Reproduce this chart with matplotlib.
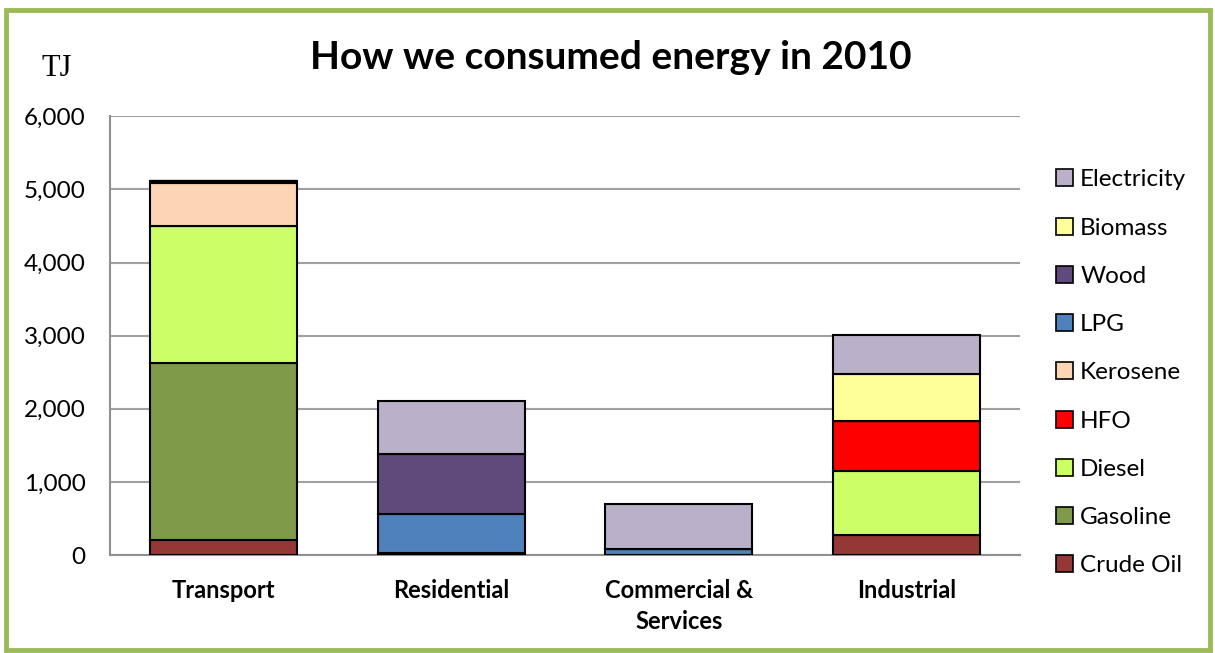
import numpy as np
import matplotlib.pyplot as plt
from matplotlib.patches import Patch, Rectangle

# Energy consumption by sector (TJ), 2010
sectors = ["Transport", "Residential", "Commercial &\nServices", "Industrial"]
fuels = ["Crude Oil", "Gasoline", "Diesel", "HFO", "Kerosene",
         "LPG", "Wood", "Biomass", "Electricity"]

crude_oil   = [205,    0,   0, 270]
gasoline    = [2415,   0,   0,   0]
diesel      = [1880,   0,   0, 885]
hfo         = [0,      0,   0, 683]
kerosene    = [585,   30,   0,   0]
lpg         = [30,   526,  80,   0]
wood        = [0,    828,   0,   0]
biomass     = [0,      0,   0, 632]
electricity = [0,    720, 620, 532]

series = [crude_oil, gasoline, diesel, hfo, kerosene, lpg, wood, biomass, electricity]
colors = ["#953735", "#7F9A48", "#CCFF66", "#FF0000", "#FCD5B5",
          "#4F81BD", "#604A7B", "#FFFF99", "#BAB0C9"]

fig = plt.figure(figsize=(12.15, 6.53), dpi=100)
ax = fig.add_axes([0.0905, 0.150, 0.749, 0.672])

x = np.arange(len(sectors))
bottom = np.zeros(len(sectors))
for vals, col in zip(series, colors):
    vals = np.array(vals, dtype=float)
    ax.bar(x, vals, width=0.646, bottom=bottom, color=col,
           edgecolor="black", linewidth=1.5, zorder=3)
    bottom += vals

ax.set_xlim(-0.5, 3.5)
ax.set_ylim(0, 6000)
ax.set_yticks(range(0, 6001, 1000))
ax.set_yticklabels(["{:,}".format(v) for v in range(0, 6001, 1000)],
                   fontsize=17.5, family="Lato")
ax.set_xticks(x)
ax.set_xticklabels(sectors, fontsize=17, fontweight="bold", family="Lato",
                   linespacing=1.45)
ax.tick_params(axis="y", length=0, pad=17.5)
ax.tick_params(axis="x", length=0, pad=17)
ax.grid(axis="y", color="#A0A0A0", linewidth=1.5, zorder=0)
for s in ["top", "right"]:
    ax.spines[s].set_visible(False)
for s in ["left", "bottom"]:
    ax.spines[s].set_color("#909090")
    ax.spines[s].set_linewidth(1.5)

fig.text(0.503, 0.912, "How we consumed energy in 2010", ha="center", va="center",
         fontsize=28, fontweight="bold", family="Lato")
fig.text(0.034, 0.895, "TJ", ha="left", va="center", fontsize=22,
         family="Liberation Serif")

# legend: reverse stack order, Electricity on top
handles = [Patch(facecolor=c, edgecolor="black", linewidth=1.2, label=f)
           for f, c in zip(fuels, colors)][::-1]
fig.legend(handles=handles, loc="upper left", bbox_to_anchor=(0.851, 0.774),
           frameon=False, prop={"family": "Lato", "size": 17.5},
           handlelength=0.7, handleheight=0.7, handletextpad=0.3,
           labelspacing=1.12)

# green outer border
fig.patches.append(Rectangle((0.005, 0.004), 0.991, 0.98, transform=fig.transFigure,
                             fill=False, edgecolor="#9BBB59", linewidth=3.5))

fig.savefig("out.png", dpi=100)
